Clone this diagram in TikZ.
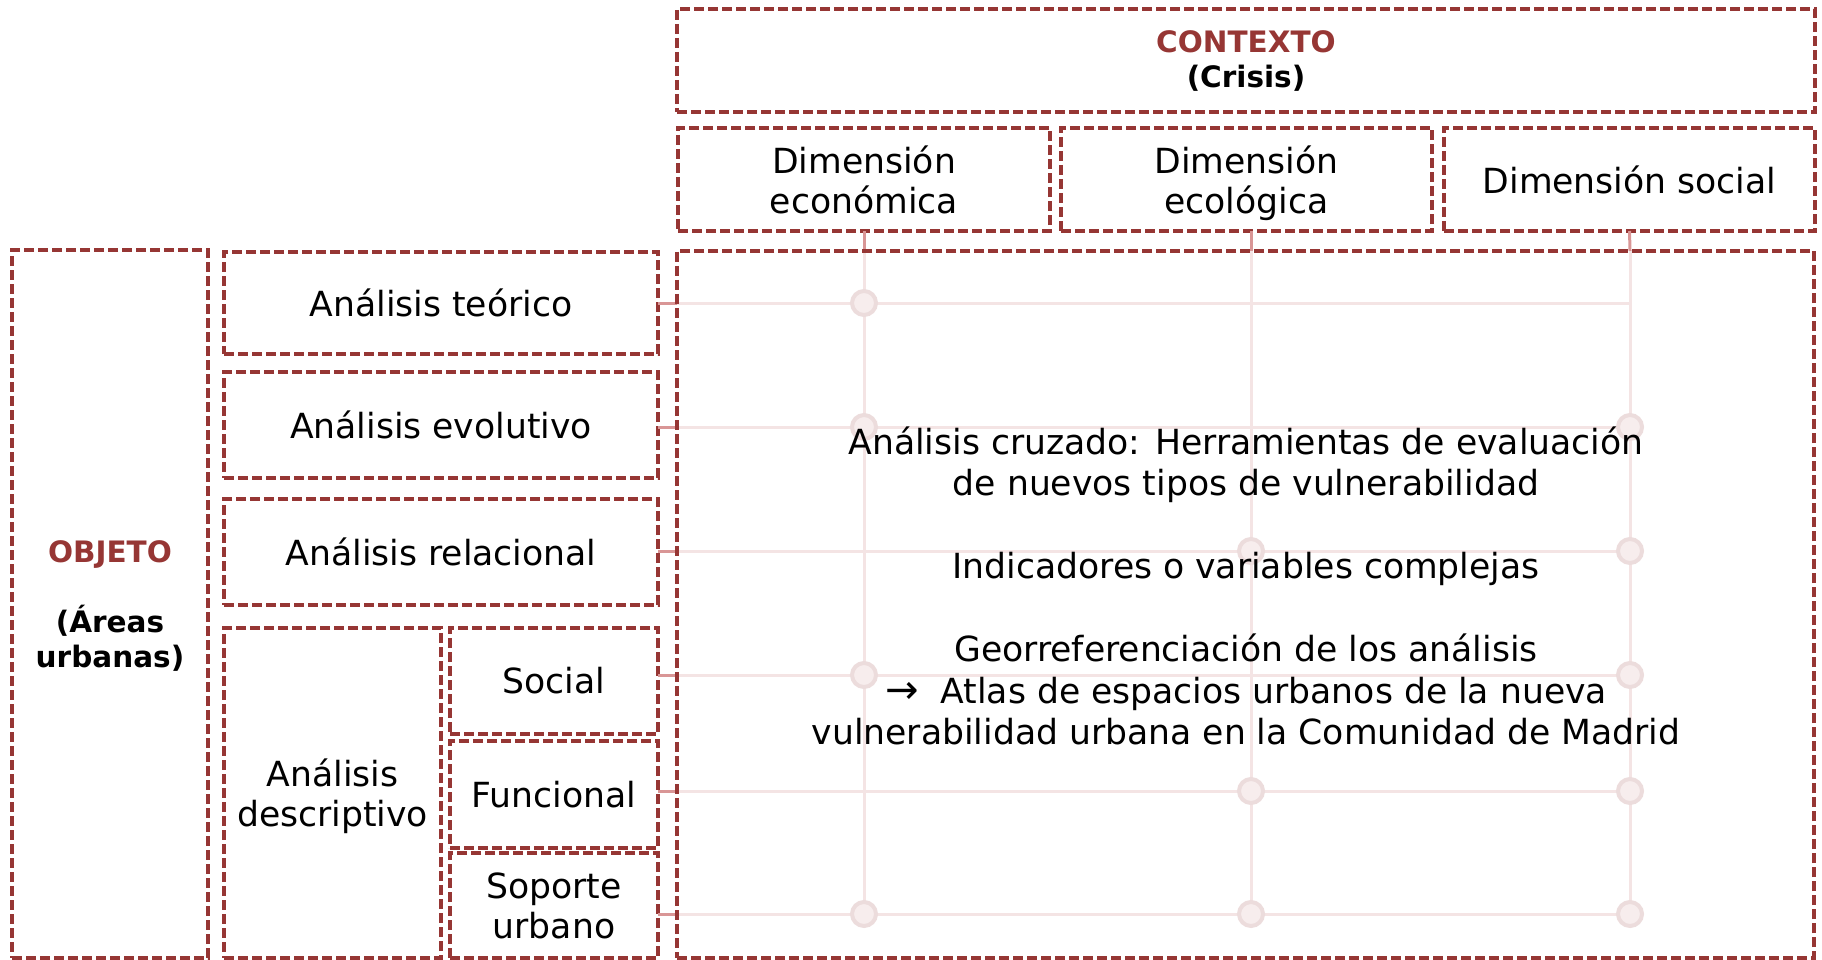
\documentclass[tikz,border=0pt]{standalone}
\usepackage{fontspec}
\setmainfont{DejaVu Sans}
\definecolor{boxred}{RGB}{150,54,52}
\definecolor{gridpink}{RGB}{244,228,228}
\definecolor{connpink}{RGB}{217,150,150}
\definecolor{dotfill}{RGB}{247,237,237}
\definecolor{dotline}{RGB}{236,220,220}
\tikzset{
  dbox/.style={draw=boxred, line width=4.6pt, dash pattern=on 10pt off 4pt,
    rectangle, inner sep=0pt, outer sep=0pt, align=center,
    font=\fontsize{34.6}{40}\selectfont},
  gridline/.style={draw=gridpink, line width=3pt},
  connline/.style={draw=connpink, line width=3pt},
  dot/.style={circle, fill=dotfill, draw=dotline, line width=4pt, minimum size=24pt, inner sep=0pt},
  boldtxt/.style={font=\fontsize{29.5}{35}\selectfont\bfseries, align=center}
}
\begin{document}
\begin{tikzpicture}[x=1pt,y=-1pt]
\useasboundingbox (0,0) rectangle (1822,960);
% grid coordinates
\coordinate (c1) at (864,251);
\coordinate (c2) at (1251,251);
\coordinate (c3) at (1630,251);
\coordinate (e1) at (864,914);
\coordinate (e2) at (1251,914);
\coordinate (e3) at (1630,914);
% boxes
\node[dbox, minimum width=1138pt, minimum height=103pt] (ctx) at (1246,60.5) {};
\node[dbox, minimum width=372pt, minimum height=103pt] (dimE) at (864,179.5) {Dimensión\\económica};
\node[dbox, minimum width=371pt, minimum height=103pt] (dimC) at (1246.5,179.5) {Dimensión\\ecoló\smash{g}ica};
\node[dbox, minimum width=371pt, minimum height=103pt] (dimS) at (1629.5,179.5) {Dimensión social};
\node[dbox, minimum width=1137pt, minimum height=707pt] (mat) at (1245.5,604.5) {};
\node[dbox, minimum width=196pt, minimum height=708pt] (obj) at (110,604) {};
\node[dbox, minimum width=434pt, minimum height=102pt] (teo) at (441,303) {Análisis teórico};
\node[dbox, minimum width=434pt, minimum height=106pt] (evo) at (441,425) {Análisis evolutivo};
\node[dbox, minimum width=434pt, minimum height=106pt] (rel) at (441,552) {Análisis relacional};
\node[dbox, minimum width=217pt, minimum height=330pt] (desc) at (332.5,793) {Análisis\\descri\smash{p}tivo};
\node[dbox, minimum width=208pt, minimum height=106pt] (soc) at (554,681) {Social};
\node[dbox, minimum width=208pt, minimum height=107pt] (fun) at (554,794.5) {Funcional};
\node[dbox, minimum width=208pt, minimum height=105pt] (sop) at (554,905.5) {Soporte\\urbano};
% row coordinates
\coordinate (r1a) at (658,303);  \coordinate (r1b) at (677,303);  \coordinate (r1c) at (1630,303);
\coordinate (r2a) at (658,427);  \coordinate (r2b) at (677,427);  \coordinate (r2c) at (1630,427);
\coordinate (r3a) at (658,551);  \coordinate (r3b) at (677,551);  \coordinate (r3c) at (1630,551);
\coordinate (r4a) at (658,675);  \coordinate (r4b) at (677,675);  \coordinate (r4c) at (1630,675);
\coordinate (r5a) at (658,791);  \coordinate (r5b) at (677,791);  \coordinate (r5c) at (1630,791);
\coordinate (r6a) at (658,914);  \coordinate (r6b) at (677,914);  \coordinate (r6c) at (1630,914);
% grid lines
\foreach \i in {1,...,6} {
  \draw[gridline] (r\i b) -- (r\i c);
  \draw[connline] (r\i a) -- (r\i b);
}
\draw[gridline] (c1) -- (e1);
\draw[gridline] (c2) -- (e2);
\draw[gridline] (c3) -- (e3);
\draw[connline] (dimE.south) -- (c1);
\draw[connline] (dimC.south -| c2) -- (c2);
\draw[connline] (dimS.south) -- (c3);
% redraw box borders over connectors
\node[dbox, minimum width=1137pt, minimum height=707pt] at (1245.5,604.5) {};
% dots
\node[dot] (d11) at (864,303) {};
\node[dot] (d21) at (864,427) {};
\node[dot] (d23) at (1630,427) {};
\node[dot] (d32) at (1251,551) {};
\node[dot] (d33) at (1630,551) {};
\node[dot] (d41) at (864,675) {};
\node[dot] (d43) at (1630,675) {};
\node[dot] (d52) at (1251,791) {};
\node[dot] (d53) at (1630,791) {};
\node[dot] (d61) at (864,914) {};
\node[dot] (d62) at (1251,914) {};
\node[dot] (d63) at (1630,914) {};
% texts
\node[boldtxt] (ctxt) at (1246,61) {\textcolor{boxred}{CONTEXTO}\\(Crisis)};
\node[boldtxt] (objt) at (110,606) {\textcolor{boxred}{OBJETO}\\[35pt](Áreas\\urbanas)};
\node[align=center, font=\fontsize{34.6}{41.5}\selectfont, inner sep=0pt] (cross) at (1246,586)
 {Análisis cruzado: Herramientas de evaluación\\de nuevos tipos de vulnerabilidad\\[41.5pt]Indicadores o variables complejas\\[41.5pt]Georreferenciación de los análisis\\{\fontsize{40}{41.5}\selectfont →}~~Atlas de espacios urbanos de la nueva\\vulnerabilidad urbana en la Comunidad de Madrid};
\end{tikzpicture}
\end{document}
